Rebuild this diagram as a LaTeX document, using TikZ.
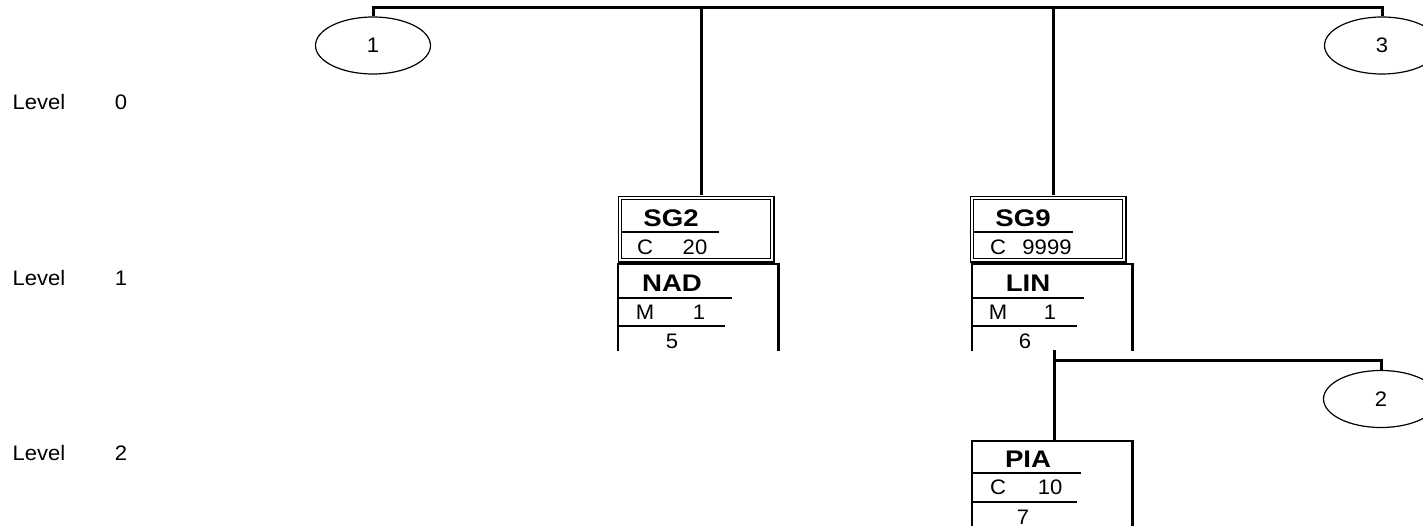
\documentclass[tikz,border=0pt]{standalone}
\usepackage{fontspec}
\setmainfont{Liberation Sans}[FakeStretch=1.05]
\newfontfamily\hb{Liberation Sans}[FakeStretch=1.15]
\usetikzlibrary{shapes.geometric,calc}
\begin{document}
\begin{tikzpicture}[x=1pt,y=-1pt,
  conn/.style={line width=3pt},
  boxline/.style={line width=2.5pt},
  divider/.style={line width=2pt},
  oval/.style={ellipse, draw, line width=1.2pt, minimum width=115pt, minimum height=57pt, inner sep=0pt, font=\fontsize{21}{21}\selectfont},
  lbl/.style={inner sep=0pt, font=\fontsize{21}{24}\selectfont},
  hd/.style={inner sep=0pt, font=\hb\bfseries\fontsize{24}{26}\selectfont},
  frame/.style={inner sep=0pt, anchor=north west},
  dframe/.style={frame, draw, double, double distance=2.2pt, line width=1.2pt, minimum width=152.4pt, minimum height=62.4pt}]
\clip (0,0) rectangle (1423,526);
\fill[white] (0,0) rectangle (1423,526);

% level labels
\node[lbl] (lv0) at (39,102) {Level};
\node[lbl] (lv0n) at (121,102) {0};
\node[lbl] (lv1) at (39,278) {Level};
\node[lbl] (lv1n) at (121,278) {1};
\node[lbl] (lv2) at (39,453) {Level};
\node[lbl] (lv2n) at (121,453) {2};

% ovals
\node[oval] (e1) at (373,45.5) {1};
\node[oval] (e3) at (1382,45.5) {3};
\node[oval] (e2) at (1381,399) {2};

% frames
\node[dframe] (sg2) at (619.3,197.3) {};
\node[dframe] (sg9) at (971.3,197.3) {};
\node[frame, minimum width=160pt, minimum height=87pt] (nad) at (618,264) {};
\node[frame, minimum width=160pt, minimum height=87pt] (lin) at (972,264) {};
\node[frame, minimum width=160pt, minimum height=90pt] (pia) at (972,441) {};
\foreach \b in {nad,lin,pia}
  \draw[boxline] (\b.south west) -- (\b.north west) -- (\b.north east) -- (\b.south east);

% connectors
\coordinate (bus) at (373,8);
\coordinate (sg2top) at (701,195);
\coordinate (sg9top) at (1053,195);
\coordinate (linout) at (1054,350);
\coordinate (fork) at (1054,360);
\draw[conn] (e1.north) |- (bus) -| (e3.north);
\draw[conn] (sg2top) -- (sg2top |- bus);
\draw[conn] (sg9top) -- (sg9top |- bus);
\draw[conn] (linout) -- (linout |- pia.north);
\draw[conn] (fork) -| (e2.north);

% SG2
\node[hd] (sg2t) at (671,218) {SG2};
\draw[divider] (622,232) -- (719,232);
\node[lbl] (sg2c) at (645,247) {C};
\node[lbl] (sg2n) at (695,247) {20};
\draw[line width=1.5pt] (720,199.5) -- (726,199.5);

% SG9
\node[hd] (sg9t) at (1023,218) {SG9};
\draw[divider] (974,232) -- (1073,232);
\node[lbl] (sg9c) at (998,247) {C};
\node[lbl] (sg9n) at (1047,247) {9999};
\draw[line width=1.5pt] (1073,199.5) -- (1079,199.5);

% NAD
\node[hd] (nadt) at (672,283) {NAD};
\draw[divider] (618,298) -- (732,298);
\node[lbl] (nadm) at (645,312) {M};
\node[lbl] (nadn) at (699,312) {1};
\draw[divider] (618,326) -- (725,326);
\node[lbl] (nadp) at (672,341) {5};

% LIN
\node[hd] (lint) at (1028,283) {LIN};
\draw[divider] (972,298) -- (1084,298);
\node[lbl] (linm) at (998,312) {M};
\node[lbl] (linn) at (1050,312) {1};
\draw[divider] (972,326) -- (1077,326);
\node[lbl] (linp) at (1025,341) {6};

% PIA
\node[hd] (piat) at (1028,459) {PIA};
\draw[divider] (972,473) -- (1081,473);
\node[lbl] (piac) at (998,487) {C};
\node[lbl] (pian) at (1050,487) {10};
\draw[divider] (972,502) -- (1077,502);
\node[lbl] (piap) at (1023,517) {7};
\end{tikzpicture}
\end{document}
